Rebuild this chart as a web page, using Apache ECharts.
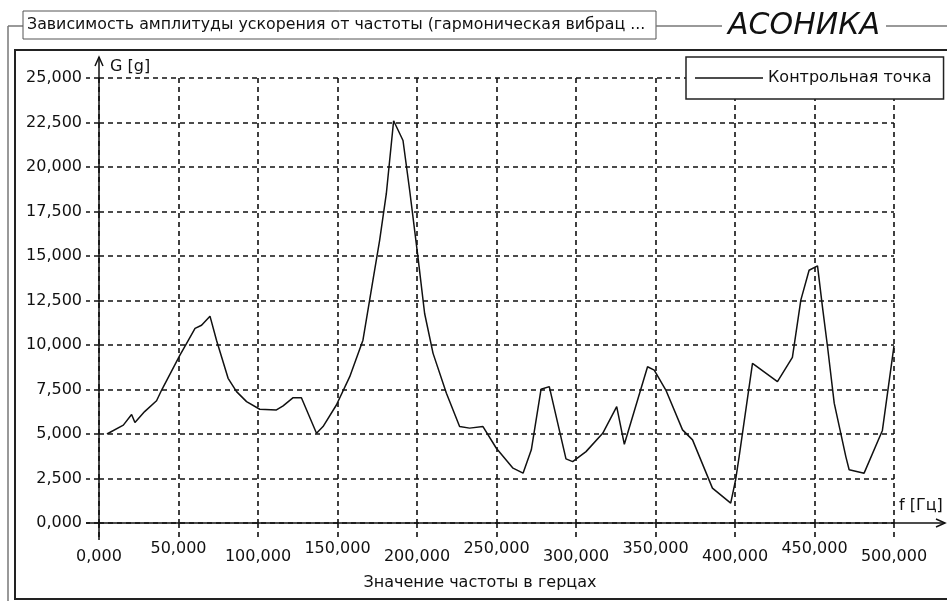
<!DOCTYPE html>
<html>
<head>
<meta charset="utf-8">
<script src="https://cdn.jsdelivr.net/npm/echarts@6/dist/echarts.min.js"></script>
<style>
  html, body { margin: 0; background: #fff; }
  #chart { width: 947px; height: 601px; }
</style>
</head>
<body>
<div id="chart"></div>
<script>
// частота, Гц
const freqHz = [
  5.0, 15.3, 20.5, 22.6, 28.7, 36.2, 39.4, 50.9, 55.1, 60.4,
  64.5, 69.8, 73.9, 81.2, 86.5, 92.8, 101.1, 111.6, 115.8, 122.1,
  127.3, 136.8, 140.9, 149.3, 157.7, 166.0, 172.3, 176.5, 180.7, 185.3,
  191.2, 195.4, 200.6, 204.8, 210.1, 218.5, 226.8, 233.1, 241.5, 249.9,
  260.4, 266.7, 271.9, 278.0, 283.2, 293.7, 297.9, 306.3, 316.8, 325.6,
  330.4, 345.0, 349.2, 356.5, 367.0, 373.3, 385.8, 397.3, 400.4, 402.6,
  411.0, 426.7, 436.1, 441.4, 446.6, 451.9, 455.0, 458.2, 462.4, 469.7,
  471.8, 481.2, 492.7, 500.0
]
// ускорение, g
const accelG = [
  5.00, 5.50, 6.10, 5.65, 6.26, 6.87, 7.47, 9.43, 10.09, 10.93,
  11.11, 11.62, 10.27, 8.13, 7.38, 6.82, 6.39, 6.35, 6.58, 7.04,
  7.04, 5.04, 5.42, 6.63, 8.22, 10.27, 13.64, 15.88, 18.50, 22.60,
  21.49, 18.68, 14.94, 11.77, 9.53, 7.29, 5.42, 5.33, 5.42, 4.20,
  3.08, 2.80, 4.11, 7.51, 7.66, 3.60, 3.45, 4.01, 5.04, 6.54,
  4.42, 8.78, 8.59, 7.47, 5.23, 4.67, 1.96, 1.12, 2.43, 3.73,
  8.97, 7.94, 9.30, 12.52, 14.20, 14.45, 12.14, 9.90, 6.73, 3.73,
  2.99, 2.80, 5.20, 9.95
]
const xRange = [0, 500]
const xStep = 50
const yRange = [0, 25]
const yStep = 2.5

const fontName = '"DejaVu Sans", sans-serif'
const fmt = v => v.toFixed(3).replace('.', ',')

const chart = echarts.init(document.getElementById('chart'))

const dashed = { color: '#111', width: 1.6, type: [5, 4] }

chart.setOption({
  animation: false,
  backgroundColor: '#fff',
  textStyle: { fontFamily: fontName, color: '#111' },
  grid: { left: 99, right: 53, top: 78, bottom: 78 },
  legend: {
    left: 686,
    top: 57,
    padding: [13, 12, 13, 9],
    borderColor: '#222',
    borderWidth: 1.5,
    backgroundColor: '#fff',
    icon: 'rect',
    itemWidth: 68,
    itemHeight: 1.5,
    textStyle: { fontSize: 16, color: '#111', fontFamily: fontName },
    data: ['Контрольная точка']
  },
  xAxis: {
    type: 'value',
    min: xRange[0],
    max: xRange[1],
    interval: xStep,
    axisLine: { show: false },
    axisTick: { show: true, length: 14, lineStyle: dashed },
    splitLine: { show: true, lineStyle: dashed },
    axisLabel: {
      margin: 18,
      fontSize: 16,
      color: '#111',
      // подписи чередуются по высоте
      formatter: (v, i) => (i % 2 ? '{hi|' : '{lo|') + fmt(v) + '}',
      rich: {
        hi: { fontSize: 16, fontFamily: fontName, color: '#111' },
        lo: { fontSize: 16, fontFamily: fontName, color: '#111', padding: [8, 0, 0, 0] }
      }
    }
  },
  yAxis: {
    type: 'value',
    min: yRange[0],
    max: yRange[1],
    interval: yStep,
    axisLine: { show: false },
    axisTick: { show: true, length: 13, lineStyle: dashed },
    splitLine: { show: true, lineStyle: dashed },
    axisLabel: {
      margin: 17,
      fontSize: 16,
      color: '#111',
      formatter: v => fmt(v)
    }
  },
  series: [{
    name: 'Контрольная точка',
    type: 'line',
    symbol: 'none',
    lineStyle: { color: '#111', width: 1.5 },
    itemStyle: { color: '#111' },
    data: freqHz.map((f, i) => [f, accelG[i]])
  }]
})

// оси со стрелками и рамки
const [x0, y0] = chart.convertToPixel({ gridIndex: 0 }, [xRange[0], yRange[0]])
const axisStyle = { stroke: '#111', lineWidth: 1.5 }
const frameStyle = { stroke: '#777', lineWidth: 1.5 }

chart.setOption({
  graphic: [
    { type: 'rect', shape: { x: 15, y: 50, width: 945, height: 549 }, style: { fill: 'none', stroke: '#222', lineWidth: 2 }, z: 0 },
    { type: 'line', shape: { x1: 8, y1: 26, x2: 8, y2: 601 }, style: frameStyle },
    { type: 'line', shape: { x1: 8, y1: 26, x2: 23, y2: 26 }, style: frameStyle },
    { type: 'rect', shape: { x: 23, y: 11, width: 633, height: 28 }, style: { fill: '#fff', stroke: '#555', lineWidth: 1 } },
    {
      type: 'text', x: 27, y: 25,
      style: { text: 'Зависимость амплитуды ускорения от частоты (гармоническая вибрац ...', font: '15.8px ' + fontName, fill: '#111', verticalAlign: 'middle' }
    },
    { type: 'line', shape: { x1: 656, y1: 26, x2: 722, y2: 26 }, style: frameStyle },
    {
      type: 'text', x: 804, y: 26,
      style: { text: 'АСОНИКА', font: 'italic 30px ' + fontName, fill: '#111', align: 'center', verticalAlign: 'middle' }
    },
    { type: 'line', shape: { x1: 886, y1: 26, x2: 947, y2: 26 }, style: frameStyle },
    { type: 'line', shape: { x1: x0, y1: y0 + 17, x2: x0, y2: 57 }, style: axisStyle, z: 10 },
    { type: 'polyline', shape: { points: [[x0 - 4, 66], [x0, 57], [x0 + 4, 66]] }, style: Object.assign({ fill: 'none' }, axisStyle), z: 10 },
    { type: 'line', shape: { x1: x0 - 13, y1: y0, x2: 945, y2: y0 }, style: axisStyle, z: 10 },
    { type: 'polyline', shape: { points: [[936, y0 - 4], [945, y0], [936, y0 + 4]] }, style: Object.assign({ fill: 'none' }, axisStyle), z: 10 },
    { type: 'text', x: 110, y: 67, style: { text: 'G [g]', font: '16px ' + fontName, fill: '#111', verticalAlign: 'middle' } },
    { type: 'text', x: 899, y: 506, style: { text: 'f [Гц]', font: '16px ' + fontName, fill: '#111', verticalAlign: 'middle' } },
    {
      type: 'text', x: 480, y: 583,
      style: { text: 'Значение частоты в герцах', font: '16px ' + fontName, fill: '#111', align: 'center', verticalAlign: 'middle' }
    }
  ]
})
</script>
</body>
</html>
